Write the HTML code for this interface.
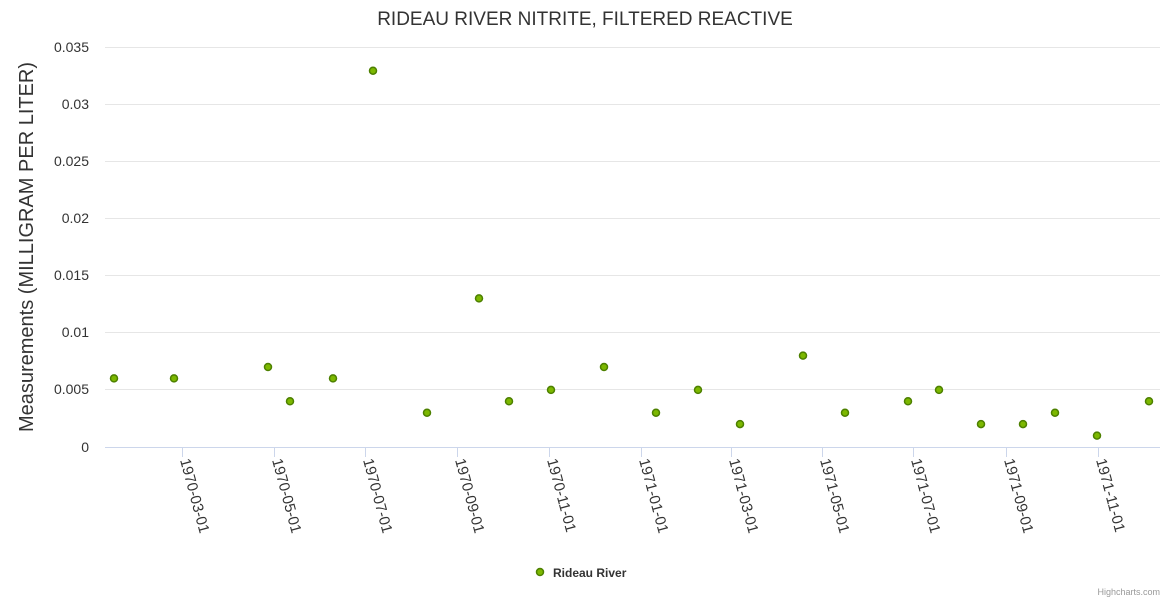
<!DOCTYPE html>
<html><head><style>body{margin:0;background:#fff}svg{display:block;font-family:"Liberation Sans",sans-serif}</style></head><body>
<svg width="1170" height="600" xmlns="http://www.w3.org/2000/svg">
<text x="585" y="25" text-anchor="middle" font-size="19" fill="#333">RIDEAU RIVER NITRITE, FILTERED REACTIVE</text>
<g stroke="#e6e6e6" stroke-width="1">
<line x1="105" x2="1160" y1="47.5" y2="47.5"/><line x1="105" x2="1160" y1="104.5" y2="104.5"/><line x1="105" x2="1160" y1="161.5" y2="161.5"/><line x1="105" x2="1160" y1="218.5" y2="218.5"/><line x1="105" x2="1160" y1="275.5" y2="275.5"/><line x1="105" x2="1160" y1="332.5" y2="332.5"/><line x1="105" x2="1160" y1="389.5" y2="389.5"/>
</g>
<line x1="105" x2="1160" y1="447.5" y2="447.5" stroke="#ccd6eb"/>
<g font-size="14" fill="#333" text-anchor="end">
<text x="89" y="52">0.035</text><text x="89" y="109">0.03</text><text x="89" y="166">0.025</text><text x="89" y="223">0.02</text><text x="89" y="280">0.015</text><text x="89" y="337">0.01</text><text x="89" y="394">0.005</text><text x="89" y="452">0</text>
</g>
<text transform="translate(33,247) rotate(-90)" text-anchor="middle" font-size="20" fill="#333">Measurements (MILLIGRAM PER LITER)</text>
<g stroke="#ccd6eb">
<line x1="182.5" x2="182.5" y1="447" y2="457"/><line x1="274.5" x2="274.5" y1="447" y2="457"/><line x1="365.5" x2="365.5" y1="447" y2="457"/><line x1="457.5" x2="457.5" y1="447" y2="457"/><line x1="549.5" x2="549.5" y1="447" y2="457"/><line x1="641.5" x2="641.5" y1="447" y2="457"/><line x1="731.5" x2="731.5" y1="447" y2="457"/><line x1="822.5" x2="822.5" y1="447" y2="457"/><line x1="913.5" x2="913.5" y1="447" y2="457"/><line x1="1006.5" x2="1006.5" y1="447" y2="457"/><line x1="1098.5" x2="1098.5" y1="447" y2="457"/>
</g>
<g font-size="15" fill="#333">
<text transform="translate(180,460) rotate(75)">1970-03-01</text>
<text transform="translate(272,460) rotate(75)">1970-05-01</text>
<text transform="translate(363,460) rotate(75)">1970-07-01</text>
<text transform="translate(455,460) rotate(75)">1970-09-01</text>
<text transform="translate(547,460) rotate(75)">1970-11-01</text>
<text transform="translate(639,460) rotate(75)">1971-01-01</text>
<text transform="translate(729,460) rotate(75)">1971-03-01</text>
<text transform="translate(820,460) rotate(75)">1971-05-01</text>
<text transform="translate(911,460) rotate(75)">1971-07-01</text>
<text transform="translate(1004,460) rotate(75)">1971-09-01</text>
<text transform="translate(1096,460) rotate(75)">1971-11-01</text>
</g>
<g fill="#7cb800" stroke="#4d8000" stroke-width="1.5">
<circle cx="114" cy="378.4" r="3.5"/><circle cx="174" cy="378.4" r="3.5"/><circle cx="268" cy="367" r="3.5"/><circle cx="290" cy="401.3" r="3.5"/><circle cx="333" cy="378.4" r="3.5"/><circle cx="373" cy="70.7" r="3.5"/><circle cx="427" cy="412.7" r="3.5"/><circle cx="479" cy="298.4" r="3.5"/><circle cx="509" cy="401.3" r="3.5"/><circle cx="551" cy="389.9" r="3.5"/><circle cx="604" cy="367" r="3.5"/><circle cx="656" cy="412.7" r="3.5"/><circle cx="698" cy="389.9" r="3.5"/><circle cx="740" cy="424.1" r="3.5"/><circle cx="803" cy="355.6" r="3.5"/><circle cx="845" cy="412.7" r="3.5"/><circle cx="908" cy="401.3" r="3.5"/><circle cx="939" cy="389.9" r="3.5"/><circle cx="981" cy="424.1" r="3.5"/><circle cx="1023" cy="424.1" r="3.5"/><circle cx="1055" cy="412.7" r="3.5"/><circle cx="1097" cy="435.6" r="3.5"/><circle cx="1149" cy="401.3" r="3.5"/>
<circle cx="540" cy="572" r="3.5"/>
</g>
<text x="553" y="577" font-size="12" font-weight="bold" fill="#333">Rideau River</text>
<text x="1160" y="595" text-anchor="end" font-size="9" fill="#999">Highcharts.com</text>
</svg>
</body></html>
